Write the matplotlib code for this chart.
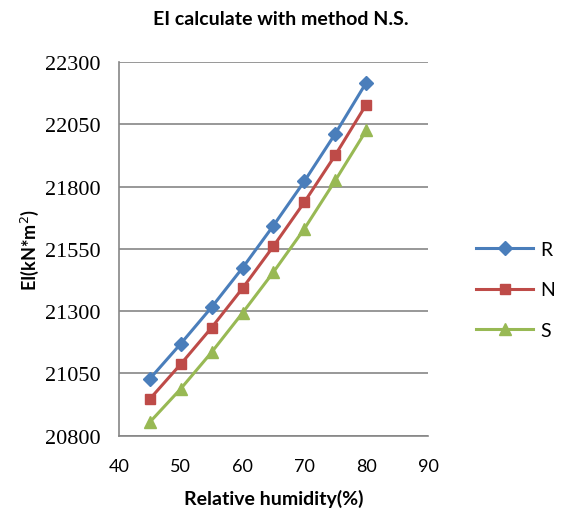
import numpy as np
import matplotlib.pyplot as plt

# Data
humidity = [45, 50, 55, 60, 65, 70, 75, 80]
ei_r = [21028, 21169, 21316, 21474, 21644, 21822, 22013, 22218]
ei_n = [20947, 21087, 21234, 21392, 21561, 21738, 21927, 22130]
ei_s = [20854, 20988, 21135, 21293, 21457, 21631, 21825, 22026]
y_ticks = [20800, 21050, 21300, 21550, 21800, 22050, 22300]
x_ticks = [40, 50, 60, 70, 80, 90]

sans = "Lato"
serif = "Liberation Serif"

fig = plt.figure(figsize=(5.61, 5.10), dpi=100)
ax = fig.add_axes([0.212, 0.144, 0.551, 0.732])

ax.plot(humidity, ei_r, color="#4A7EBB", linewidth=2.2, marker="D", markersize=7, label="R")
ax.plot(humidity, ei_n, color="#BE4B48", linewidth=2.2, marker="s", markersize=7, label="N")
ax.plot(humidity, ei_s, color="#98B954", linewidth=2.2, marker="^", markersize=8, label="S")

ax.set_xlim(40, 90)
ax.set_ylim(20800, 22300)
ax.set_xticks(x_ticks)
ax.set_yticks(y_ticks)
ax.set_xticklabels([str(t) for t in x_ticks], fontfamily=sans, fontsize=13)
ax.set_yticklabels([str(t) for t in y_ticks], fontfamily=serif, fontsize=16)
ax.tick_params(axis="x", length=0, pad=16)
ax.tick_params(axis="y", length=0, pad=13)

ax.grid(axis="y", color="#868686", linewidth=1.2)
ax.set_axisbelow(True)
for side in ["top", "right"]:
    ax.spines[side].set_visible(False)
for side in ["left", "bottom"]:
    ax.spines[side].set_color("#868686")
    ax.spines[side].set_linewidth(1.2)

ax.set_xlabel("Relative humidity(%)", fontfamily=sans, fontweight="bold", fontsize=14, labelpad=11)
ax.set_ylabel("EI(kN*m$^2$)", fontfamily=sans, fontweight="bold", fontsize=13, labelpad=3)
fig.suptitle("EI calculate with method N.S.", fontfamily=sans, fontweight="bold", fontsize=14, x=0.5, y=0.978)

leg = ax.legend(loc="center left", bbox_to_anchor=(1.1, 0.39), frameon=False,
                prop={"family": sans, "size": 14}, labelspacing=1.2,
                handlelength=2.9, handletextpad=0.4)

fig.savefig("out.png", dpi=100)
